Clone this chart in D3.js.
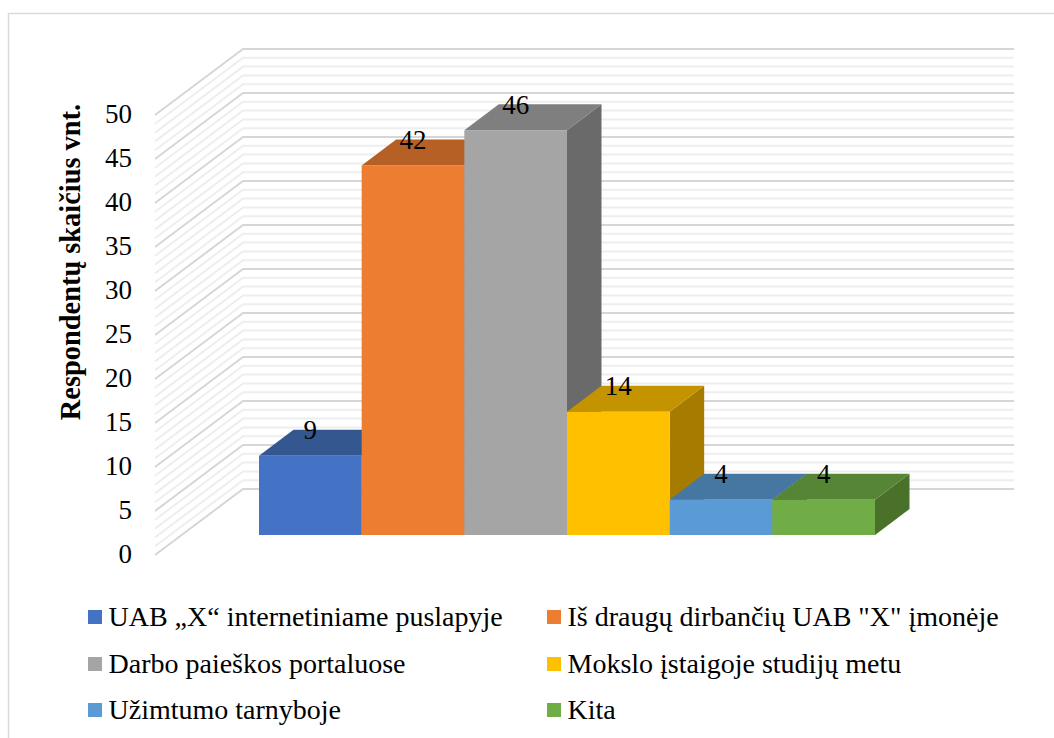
<!DOCTYPE html>
<html lang="lt">
<head>
<meta charset="utf-8">
<script src="https://cdn.jsdelivr.net/npm/d3@7"></script>
<style>
  html, body { margin: 0; padding: 0; background: #fff; }
  svg { display: block; }
  text { font-family: "Liberation Serif", "Times New Roman", serif; fill: #000; }
</style>
</head>
<body>
<svg id="chart" width="1054" height="738"></svg>
<script>
// Respondents by the channel through which they learned about the job
const categories = [
  "UAB „X“ internetiniame puslapyje",
  "Iš draugų dirbančių UAB \"X\" įmonėje",
  "Darbo paieškos portaluose",
  "Mokslo įstaigoje studijų metu",
  "Užimtumo tarnyboje",
  "Kita"
];
const respondents = [9, 42, 46, 14, 4, 4];
const frontColors = ["#4472c4", "#ed7d31", "#a5a5a5", "#ffc000", "#5b9bd5", "#70ad47"];
const topColors   = ["#35578f", "#b66025", "#7f7f7f", "#c49300", "#4677a3", "#568536"];
const sideColors  = ["#2c4a80", "#9c521f", "#6a6a6a", "#a57c00", "#3b658b", "#4a7129"];
const axisTitle = "Respondentų skaičius vnt.";
const minorTicks = d3.range(0, 51);

const svg = d3.select("#chart");

// Outer chart frame, open towards the right and bottom edges of the page
svg.append("path")
  .attr("d", "M8.5,738V13.5H1054")
  .attr("fill", "none").attr("stroke", "#d9d9d9").attr("stroke-width", 1.5);

// Oblique projection: floor front edge, wall depth and bar depth
const wallDepth = { dx: 88, dy: -66 };
const barDepth = { dx: 34.5, dy: -26 };
const wallRight = 1014;

const yWall = d3.scaleLinear().domain([0, 50]).range([555, 115]);
const yBar = d3.scaleLinear().domain([0, 50]).range([535, 95]);
const xBar = d3.scaleBand().domain(categories).range([259, 875]);
const wallLeft = 155;

// Side wall and back wall gridlines, one per unit, heavier every five
const grid = svg.append("g").attr("fill", "none");
const gridPath = d => {
  const y = yWall(d);
  return `M${wallLeft},${y}L${wallLeft + wallDepth.dx},${y + wallDepth.dy}H${wallRight}`;
};
grid.selectAll("path.minor")
  .data(minorTicks.filter(d => d % 5 !== 0))
  .join("path").attr("class", "minor")
  .attr("d", gridPath).attr("stroke", "#eeeeee").attr("stroke-width", 2);
grid.selectAll("path.major")
  .data(minorTicks.filter(d => d % 5 === 0))
  .join("path").attr("class", "major")
  .attr("d", gridPath).attr("stroke", "#d6d6d6").attr("stroke-width", 2);

// Value axis labels
const axis = svg.append("g")
  .attr("transform", "translate(132,-1)")
  .call(d3.axisLeft(yWall).tickValues(d3.range(0, 51, 5)).tickSize(0).tickPadding(0));
axis.select(".domain").remove();
axis.selectAll("text")
  .attr("font-size", 27)
  .attr("font-family", "'Liberation Serif', serif")
  .attr("fill", "#000");

// Rotated axis title
svg.append("text")
  .attr("transform", "translate(80,262) rotate(-90)")
  .attr("text-anchor", "middle")
  .attr("font-size", 28.4)
  .attr("font-weight", "bold")
  .text(axisTitle);

// Bars, left to right so each one overlaps its neighbour's side face
const bars = svg.append("g").selectAll("g")
  .data(categories.map((c, i) => ({ c, i, v: respondents[i] })))
  .join("g");

const poly = pts => pts.map(p => p.join(",")).join(" ");
const { dx, dy } = barDepth;

bars.append("polygon")
  .attr("fill", d => sideColors[d.i])
  .attr("points", d => {
    const x = xBar(d.c) + xBar.bandwidth();
    return poly([[x, yBar(d.v)], [x + dx, yBar(d.v) + dy], [x + dx, yBar(0) + dy], [x, yBar(0)]]);
  });
bars.append("polygon")
  .attr("fill", d => topColors[d.i])
  .attr("points", d => {
    const x = xBar(d.c), w = xBar.bandwidth(), y = yBar(d.v);
    return poly([[x, y], [x + dx, y + dy], [x + w + dx, y + dy], [x + w, y]]);
  });
bars.append("rect")
  .attr("fill", d => frontColors[d.i])
  .attr("x", d => xBar(d.c))
  .attr("y", d => yBar(d.v))
  .attr("width", xBar.bandwidth())
  .attr("height", d => yBar(0) - yBar(d.v));

// Value labels sit on the back edge of each bar's top face
svg.append("g").selectAll("text")
  .data(categories.map((c, i) => ({ c, v: respondents[i] })))
  .join("text")
  .attr("x", d => xBar(d.c) + xBar.bandwidth() / 2)
  .attr("y", d => yBar(d.v) + dy + 9.5)
  .attr("text-anchor", "middle")
  .attr("font-size", 27)
  .text(d => d.v);

// Two-column legend
const legendCols = [88, 547];
const legendRows = [610, 657, 703];
const legend = svg.append("g").selectAll("g")
  .data(categories)
  .join("g")
  .attr("transform", (d, i) => `translate(${legendCols[i % 2]},${legendRows[Math.floor(i / 2)]})`);
legend.append("rect")
  .attr("width", 14).attr("height", 14)
  .attr("fill", (d, i) => frontColors[i]);
legend.append("text")
  .attr("x", 20.5).attr("y", 15.5)
  .attr("font-size", 28)
  .text(d => d);
</script>
</body>
</html>
